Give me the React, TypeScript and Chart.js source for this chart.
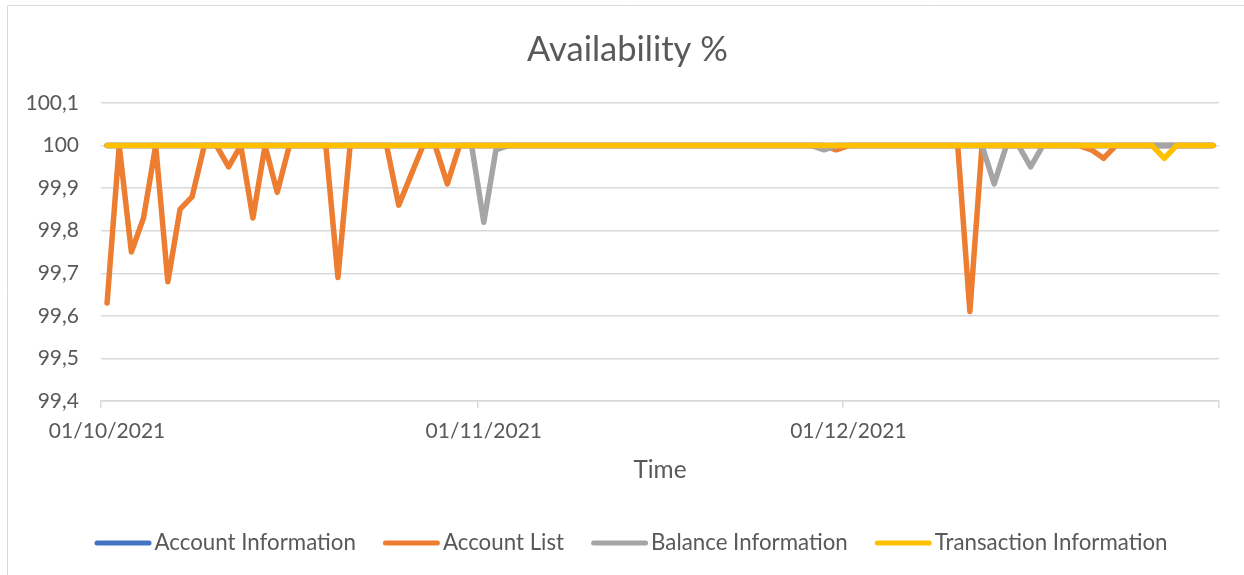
import React, { useEffect, useRef } from "react";
import { Chart, registerables } from "chart.js";

Chart.register(...registerables);

// ---------- data ----------
const DAY_COUNT = 92; // 01/10/2021 .. 31/12/2021
const categories: string[] = [];
for (let i = 0; i < DAY_COUNT; i++) {
  const dt = new Date(Date.UTC(2021, 9, 1 + i));
  const dd = String(dt.getUTCDate()).padStart(2, "0");
  const mm = String(dt.getUTCMonth() + 1).padStart(2, "0");
  categories.push(`${dd}/${mm}/${dt.getUTCFullYear()}`);
}

const tickLabels = ["01/10/2021", "01/11/2021", "01/12/2021"];

const seriesNames = [
  "Account Information",
  "Account List",
  "Balance Information",
  "Transaction Information",
];

const seriesColors = ["#4472C4", "#ED7D31", "#A5A5A5", "#FFC000"];

const accountInformation = [
  100, 100, 100, 100, 100, 100, 100, 100, 100, 100,
  100, 100, 100, 100, 100, 100, 100, 100, 100, 100,
  100, 100, 100, 100, 100, 100, 100, 100, 100, 100,
  100, 100, 100, 100, 100, 100, 100, 100, 100, 100,
  100, 100, 100, 100, 100, 100, 100, 100, 100, 100,
  100, 100, 100, 100, 100, 100, 100, 100, 100, 100,
  100, 100, 100, 100, 100, 100, 100, 100, 100, 100,
  100, 100, 100, 100, 100, 100, 100, 100, 100, 100,
  100, 100, 100, 100, 100, 100, 100, 100, 100, 100,
  100, 100,
];

const accountList = [
  99.63, 100, 99.75, 99.83, 100, 99.68, 99.85, 99.88, 100, 100,
  99.95, 100, 99.83, 100, 99.89, 100, 100, 100, 100, 99.69,
  100, 100, 100, 100, 99.86, 99.93, 100, 100, 99.91, 100,
  100, 100, 100, 100, 100, 100, 100, 100, 100, 100,
  100, 100, 100, 100, 100, 100, 100, 100, 100, 100,
  100, 100, 100, 100, 100, 100, 100, 100, 100, 100,
  99.99, 100, 100, 100, 100, 100, 100, 100, 100, 100,
  100, 99.61, 100, 100, 100, 100, 100, 100, 100, 100,
  100, 99.99, 99.97, 100, 100, 100, 100, 100, 100, 100,
  100, 100,
];

const balanceInformation = [
  100, 100, 100, 100, 100, 100, 100, 100, 100, 100,
  100, 100, 100, 100, 100, 100, 100, 100, 100, 100,
  100, 100, 100, 100, 100, 100, 100, 100, 100, 100,
  100, 99.82, 99.99, 100, 100, 100, 100, 100, 100, 100,
  100, 100, 100, 100, 100, 100, 100, 100, 100, 100,
  100, 100, 100, 100, 100, 100, 100, 100, 100, 99.99,
  100, 100, 100, 100, 100, 100, 100, 100, 100, 100,
  100, 100, 100, 99.91, 100, 100, 99.95, 100, 100, 100,
  100, 100, 100, 100, 100, 100, 100, 100, 100, 100,
  100, 100,
];

const transactionInformation = [
  100, 100, 100, 100, 100, 100, 100, 100, 100, 100,
  100, 100, 100, 100, 100, 100, 100, 100, 100, 100,
  100, 100, 100, 100, 100, 100, 100, 100, 100, 100,
  100, 100, 100, 100, 100, 100, 100, 100, 100, 100,
  100, 100, 100, 100, 100, 100, 100, 100, 100, 100,
  100, 100, 100, 100, 100, 100, 100, 100, 100, 100,
  100, 100, 100, 100, 100, 100, 100, 100, 100, 100,
  100, 100, 100, 100, 100, 100, 100, 100, 100, 100,
  100, 100, 100, 100, 100, 100, 100, 99.97, 100, 100,
  100, 100,
];

const seriesData = [accountInformation, accountList, balanceInformation, transactionInformation];

const TITLE = "Availability %";
const X_TITLE = "Time";

// ---------- style ----------
const FONT = "Lato";
const TEXT = "#595959";
const GRID = "#d9d9d9";

const tickIdx = tickLabels.map((t) => categories.indexOf(t));

const xTickColor = (ctx: any) =>
  ctx.index === undefined || tickIdx.includes(ctx.index) ? GRID : "rgba(0,0,0,0)";

const fmtY = (v: any) => {
  const r = Math.round(Number(v) * 10) / 10;
  return (Number.isInteger(r) ? String(r) : r.toFixed(1)).replace(".", ",");
};

const decorPlugin = {
  id: "decor",
  beforeDraw(chart: any) {
    const ctx = chart.ctx;
    ctx.save();
    ctx.strokeStyle = GRID;
    ctx.lineWidth = 1;
    ctx.beginPath();
    ctx.moveTo(7.5, 700);
    ctx.lineTo(7.5, 5.5);
    ctx.lineTo(1400, 5.5);
    ctx.stroke();
    ctx.restore();
  },
  afterDraw(chart: any) {
    const ctx = chart.ctx;
    ctx.save();
    // title
    ctx.fillStyle = TEXT;
    ctx.font = `34.5px ${FONT}`;
    ctx.textAlign = "center";
    ctx.textBaseline = "alphabetic";
    ctx.fillText(TITLE, 627.5, 61);

    // legend
    ctx.font = `22.3px ${FONT}`;
    const lineLen = 57;
    const gapText = 3;
    const gapItem = 27;
    const widths = seriesNames.map((n) => ctx.measureText(n).width);
    const total =
      widths.reduce((a, w) => a + lineLen + gapText + w, 0) + gapItem * (seriesNames.length - 1);
    let x = 631 - total / 2;
    const y = 543;
    ctx.textAlign = "left";
    ctx.textBaseline = "middle";
    seriesNames.forEach((name, k) => {
      ctx.strokeStyle = seriesColors[k];
      ctx.lineWidth = 5;
      ctx.lineCap = "round";
      ctx.beginPath();
      ctx.moveTo(x + 2.5, y);
      ctx.lineTo(x + lineLen - 2.5, y);
      ctx.stroke();
      ctx.fillStyle = TEXT;
      ctx.fillText(name, x + lineLen + gapText, y);
      x += lineLen + gapText + widths[k] + gapItem;
    });
    ctx.restore();
  },
};

export default function App() {
  const ref = useRef<HTMLCanvasElement>(null);

  useEffect(() => {
    let chart: Chart | null = null;
    let cancelled = false;
    const make = () => {
      if (cancelled || !ref.current) return;
      chart = new Chart(ref.current, {
        type: "line",
        data: {
          labels: categories,
          datasets: seriesNames.map((name, k) => ({
            label: name,
            data: seriesData[k],
            borderColor: seriesColors[k],
            backgroundColor: seriesColors[k],
            borderWidth: 5.5,
            pointRadius: 0,
            pointHoverRadius: 0,
            borderCapStyle: "round",
            borderJoinStyle: "round",
            tension: 0,
            fill: false,
            order: seriesNames.length - 1 - k,
          })),
        },
        options: {
          responsive: false,
          animation: false,
          events: [],
          layout: { padding: { left: 0, top: 103, right: 25, bottom: 84 } },
          plugins: {
            legend: { display: false },
            title: { display: false },
            tooltip: { enabled: false },
          },
          scales: {
            x: {
              type: "category",
              offset: true,
              grid: {
                offset: true,
                drawOnChartArea: false,
                drawTicks: true,
                tickLength: 7,
                color: xTickColor,
                tickColor: xTickColor,
                lineWidth: 1.5,
                tickWidth: 1.5,
              },
              border: { display: true, color: GRID, width: 1.5 },
              ticks: {
                autoSkip: false,
                maxRotation: 0,
                minRotation: 0,
                padding: 11,
                color: TEXT,
                font: { family: FONT, size: 21 },
                callback: (_v: any, i: number) =>
                  tickLabels.includes(categories[i]) ? categories[i] : "",
              },
              title: {
                display: true,
                text: X_TITLE,
                color: TEXT,
                font: { family: FONT, size: 24.4 },
                padding: { top: 0, bottom: 6 },
              },
              afterFit: (s: any) => {
                s.height = 90;
              },
            },
            y: {
              min: 99.4,
              max: 100.1,
              ticks: {
                stepSize: 0.1,
                padding: 22,
                color: TEXT,
                font: { family: FONT, size: 21 },
                callback: fmtY,
              },
              grid: { color: GRID, lineWidth: 1.5, drawTicks: false },
              border: { display: false },
              afterFit: (s: any) => {
                s.width = 101;
              },
            },
          },
        } as any,
        plugins: [decorPlugin],
      });
    };
    const fonts = (document as any).fonts;
    if (fonts && fonts.load) {
      Promise.all([fonts.load(`21px ${FONT}`), fonts.load(`32px ${FONT}`)])
        .catch(() => {})
        .then(make);
    } else {
      make();
    }
    return () => {
      cancelled = true;
      if (chart) chart.destroy();
    };
  }, []);

  return (
    <div
      style={{
        position: "fixed",
        left: 0,
        top: 0,
        width: 1244,
        height: 575,
        background: "#ffffff",
        overflow: "hidden",
      }}
    >
      <canvas ref={ref} width={1244} height={575} style={{ display: "block" }} />
    </div>
  );
}
